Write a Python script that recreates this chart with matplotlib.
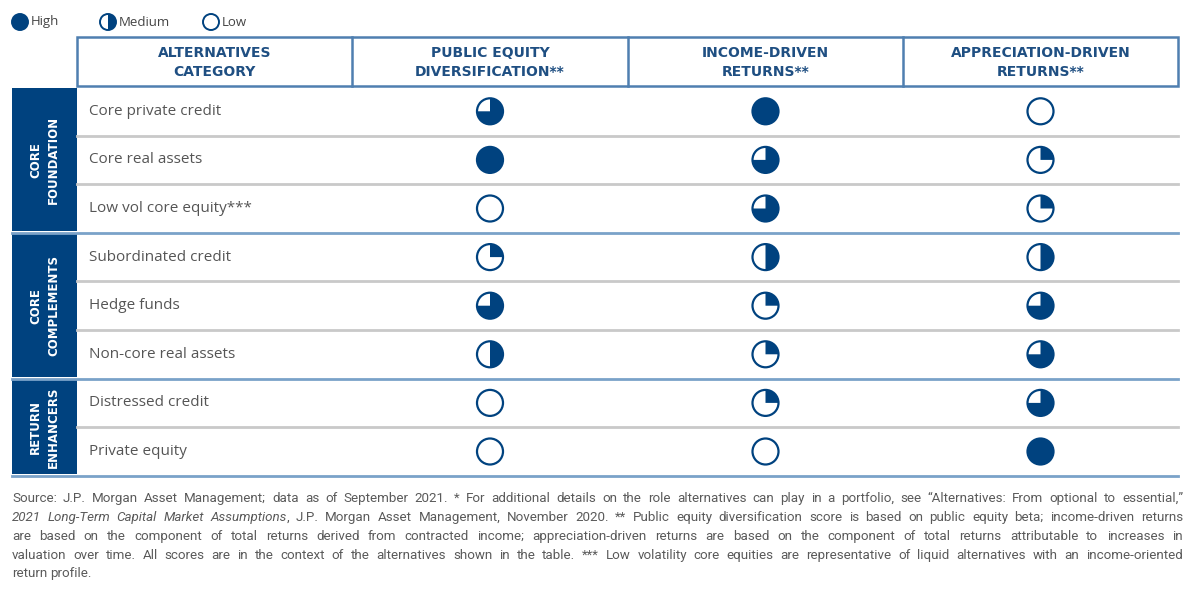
import matplotlib
matplotlib.use("Agg")
import matplotlib.pyplot as plt
from matplotlib.patches import Wedge, Circle, Rectangle

# ---- data ----
columns = ["ALTERNATIVES\nCATEGORY", "PUBLIC EQUITY\nDIVERSIFICATION**",
           "INCOME-DRIVEN\nRETURNS**", "APPRECIATION-DRIVEN\nRETURNS**"]
groups = ["CORE\nFOUNDATION", "CORE\nCOMPLEMENTS", "RETURN\nENHANCERS"]
group_sizes = [3, 3, 2]
categories = ["Core private credit", "Core real assets", "Low vol core equity***",
              "Subordinated credit", "Hedge funds", "Non-core real assets",
              "Distressed credit", "Private equity"]
# scores in quarters: 4 = high, 2 = medium, 0 = low
pub_equity = [3, 4, 0, 1, 3, 2, 0, 0]
income = [4, 3, 3, 2, 1, 1, 1, 0]
appreciation = [0, 1, 1, 2, 3, 3, 3, 4]
legend_labels = ["High", "Medium", "Low"]
legend_scores = [4, 2, 0]

footnote = [
    [("Source: J.P. Morgan Asset Management; data as of September 2021. * For additional details on the role alternatives can play in a portfolio, see \u201cAlternatives: From optional to essential,\u201d", "normal")],
    [("2021 Long-Term Capital Market Assumptions", "italic"),
     (", J.P. Morgan Asset Management, November 2020. ** Public equity diversification score is based on public equity beta; income-driven returns", "normal")],
    [("are based on the component of total returns derived from contracted income; appreciation-driven returns are based on the component of total returns attributable to increases in", "normal")],
    [("valuation over time. All scores are in the context of the alternatives shown in the table. *** Low volatility core equities are representative of liquid alternatives with an income-oriented", "normal")],
    [("return profile.", "normal")],
]

navy = "#00427f"
border = "#4f7fb0"
head_txt = "#1f4f82"
grey_txt = "#555555"
foot_font = "Roboto"

fig = plt.figure(figsize=(12, 5.98), dpi=100)
ax = fig.add_axes([0, 0, 1, 1])
ax.set_xlim(0, 1200)
ax.set_ylim(598, 0)
ax.axis("off")

# layout
col_x = [77, 352, 628, 903, 1178]
head_top, head_bot = 37, 86
row_top, row_h = 87, 48.6
bar_left = 12


def marker(x, y, r, score, lw=1.6):
    # y axis is inverted: -90 deg is 12 o'clock, increasing angle is clockwise
    if score > 0:
        ax.add_patch(Wedge((x, y), r, -90, -90 + 90 * score, facecolor=navy,
                           edgecolor="none", zorder=3))
    ax.add_patch(Circle((x, y), r, facecolor="none", edgecolor=navy, lw=lw, zorder=4))


# legend
lx = [20, 108, 211]
for x, lab, s in zip(lx, legend_labels, legend_scores):
    marker(x, 22, 8, s, lw=1.4)
    ax.text(x + 11, 22, lab, fontsize=9.5, color="#444444", va="center",
            family="Open Sans")

# header
ax.add_patch(Rectangle((col_x[0], head_top), col_x[-1] - col_x[0], head_bot - head_top,
                       facecolor="white", edgecolor=border, lw=1.8))
for x in col_x[1:-1]:
    ax.plot([x, x], [head_top, head_bot], color=border, lw=1.8)
for i, c in enumerate(columns):
    cx = (col_x[i] + col_x[i + 1]) / 2
    ax.text(cx, (head_top + head_bot) / 2 + 1, c, ha="center", va="center",
            fontsize=10, fontweight="bold", color=head_txt, linespacing=1.45,
            family="DejaVu Sans")

# rows
n = len(categories)
centers = [row_top + row_h * (i + 0.5) for i in range(n)]
start = 0
for g, size in zip(groups, group_sizes):
    y0 = row_top + row_h * start
    y1 = row_top + row_h * (start + size)
    ax.add_patch(Rectangle((bar_left, y0 + 1), col_x[0] - bar_left, y1 - y0 - 3,
                           facecolor=navy, edgecolor="none"))
    ax.text((bar_left + col_x[0]) / 2, (y0 + y1) / 2, g, rotation=90, ha="center",
            va="center", color="white", fontsize=8.5, fontweight="bold",
            linespacing=1.5, family="DejaVu Sans")
    for k in range(1, size):
        yy = row_top + row_h * (start + k)
        ax.plot([col_x[0], col_x[-1]], [yy, yy], color="#c9c9c9", lw=2)
    ax.plot([bar_left, col_x[-1]], [y1, y1], color="#7aa2c9", lw=2)
    start += size

for i, cat in enumerate(categories):
    ax.text(89, centers[i], cat, va="center", fontsize=11, color=grey_txt,
            family="Open Sans")
    for j, vals in enumerate([pub_equity, income, appreciation]):
        cx = (col_x[j + 1] + col_x[j + 2]) / 2
        marker(cx, centers[i], 13, vals[i])

# footnote, justified across the full width
renderer = fig.canvas.get_renderer()
fx0, fx1 = 12, 1183
fy = [502, 521, 540, 559, 577]  # baselines
for li, (parts, y) in enumerate(zip(footnote, fy)):
    # a part that starts without a space is glued onto the previous word
    text_groups = []
    for txt, style in parts:
        pieces = txt.split(" ")
        for k, w in enumerate(pieces):
            if not w:
                continue
            if k == 0 and not txt.startswith(" ") and text_groups:
                text_groups[-1].append((w, style))
            else:
                text_groups.append([(w, style)])
    placed = []
    for grp in text_groups:
        arts = []
        for w, style in grp:
            arts.append(ax.text(0, y, w, fontsize=9.6, color="#5a5a5a", style=style,
                                va="baseline", family=foot_font))
        ws = [a.get_window_extent(renderer).width for a in arts]
        placed.append((arts, ws))
    total = sum(sum(ws) for _, ws in placed)
    last = li == len(footnote) - 1
    if last or len(placed) < 2:
        gap = 3
    else:
        gap = (fx1 - fx0 - total) / (len(placed) - 1)
    x = fx0
    for arts, ws in placed:
        for a, w in zip(arts, ws):
            a.set_x(x)
            x += w
        x += gap

fig.savefig("out.png", dpi=100)
